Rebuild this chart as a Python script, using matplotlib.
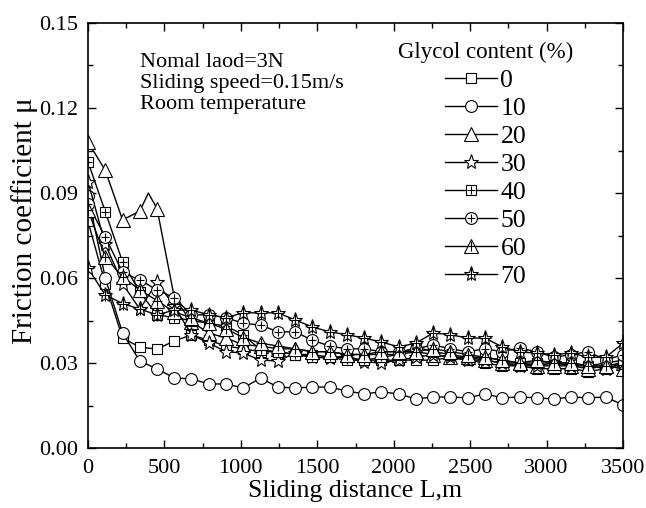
import matplotlib
matplotlib.use("Agg")
import matplotlib.pyplot as plt
from matplotlib.lines import Line2D
from matplotlib.legend_handler import HandlerTuple
from matplotlib.ticker import MultipleLocator, FormatStrFormatter

plt.rcParams['font.family'] = ['Liberation Serif', 'DejaVu Serif']

# ---------------- data ----------------
distance = [0, 113, 226, 339, 452, 565, 677, 790, 903, 1016, 1129, 1242, 1355, 1468,
            1581, 1694, 1806, 1919, 2032, 2145, 2258, 2371, 2484, 2597, 2710, 2823,
            2935, 3048, 3161, 3274, 3387, 3500]

mu_0 = [0.080, 0.058, 0.0388, 0.0356, 0.0349, 0.0378, 0.0399, 0.038, 0.036, 0.035,
        0.034, 0.034, 0.033, 0.033, 0.032, 0.032, 0.031, 0.031, 0.031, 0.031, 0.031,
        0.032, 0.031, 0.030, 0.029, 0.029, 0.028, 0.028, 0.028, 0.027, 0.028, 0.030]
mu_10 = [0.089, 0.060, 0.0406, 0.0307, 0.0279, 0.0247, 0.0244, 0.0226, 0.0226, 0.0212,
         0.0247, 0.0215, 0.0212, 0.0215, 0.0215, 0.0201, 0.0191, 0.0198, 0.0191, 0.0173,
         0.0180, 0.0180, 0.0177, 0.0191, 0.0177, 0.0180, 0.0177, 0.0173, 0.0180, 0.0177,
         0.0180, 0.0152]
distance_20 = [0, 113, 226, 339, 395, 452, 565, 677, 790, 903, 1016, 1129, 1242, 1355,
               1468, 1581, 1694, 1806, 1919, 2032, 2145, 2258, 2371, 2484, 2597, 2710,
               2823, 2935, 3048, 3161, 3274, 3387, 3500]
mu_20 = [0.108, 0.098, 0.0805, 0.0836, 0.090, 0.0844, 0.053, 0.0445, 0.0406, 0.0388,
         0.0364, 0.036, 0.035, 0.035, 0.034, 0.034, 0.033, 0.033, 0.033, 0.033, 0.034,
         0.033, 0.032, 0.032, 0.031, 0.030, 0.030, 0.029, 0.029, 0.029, 0.028, 0.029,
         0.030]
mu_30 = [0.094, 0.072, 0.058, 0.049, 0.0586, 0.050, 0.040, 0.037, 0.034, 0.0335, 0.031,
         0.0307, 0.0335, 0.032, 0.0318, 0.0325, 0.0304, 0.030, 0.031, 0.032, 0.033,
         0.032, 0.031, 0.031, 0.030, 0.029, 0.029, 0.030, 0.029, 0.029, 0.028, 0.029]
mu_40 = [0.101, 0.0834, 0.0657, 0.055, 0.047, 0.046, 0.045, 0.044, 0.043, 0.040,
         0.0346, 0.034, 0.033, 0.032, 0.032, 0.031, 0.031, 0.032, 0.033, 0.0357, 0.034,
         0.033, 0.032, 0.032, 0.031, 0.030, 0.030, 0.030, 0.030, 0.029, 0.030, 0.031]
mu_50 = [0.086, 0.0745, 0.062, 0.0593, 0.0558, 0.053, 0.047, 0.047, 0.046, 0.044,
         0.0434, 0.041, 0.041, 0.038, 0.036, 0.035, 0.035, 0.034, 0.034, 0.035, 0.0364,
         0.035, 0.034, 0.035, 0.034, 0.0353, 0.034, 0.032, 0.033, 0.034, 0.031, 0.033]
mu_60 = [0.084, 0.0674, 0.0604, 0.0558, 0.052, 0.048, 0.046, 0.044, 0.042, 0.039,
         0.037, 0.036, 0.035, 0.034, 0.034, 0.033, 0.033, 0.034, 0.034, 0.034, 0.035,
         0.034, 0.033, 0.032, 0.031, 0.030, 0.031, 0.030, 0.030, 0.029, 0.029, 0.028]
mu_70 = [0.0635, 0.054, 0.051, 0.049, 0.047, 0.0487, 0.0487, 0.047, 0.046, 0.0477,
         0.0477, 0.0477, 0.0452, 0.0427, 0.041, 0.040, 0.0388, 0.0374, 0.0357, 0.037,
         0.0406, 0.040, 0.0388, 0.0388, 0.0357, 0.0339, 0.0335, 0.033, 0.0335, 0.032,
         0.032, 0.037]

labels = ['0', '10', '20', '30', '40', '50', '60', '70']

# ---------------- figure ----------------
fig = plt.figure(figsize=(6.46, 5.08), dpi=100)
ax = fig.add_axes([88 / 646, 60 / 508, 535 / 646, 425 / 508])

series = [
    (distance, mu_0, 's', False, 7.5),
    (distance, mu_10, 'o', False, 8.5),
    (distance_20, mu_20, '^', False, 9.5),
    (distance, mu_30, '*', False, 11),
    (distance, mu_40, 's', True, 7.5),
    (distance, mu_50, 'o', True, 8.5),
    (distance, mu_60, '^', True, 9.5),
    (distance, mu_70, '*', True, 11),
]

handles = []
for (xs, ys, mk, plus, ms), lab in zip(series, labels):
    if xs is distance_20:
        idx = [i for i in range(len(xs)) if xs[i] != 395]
    else:
        idx = list(range(len(xs)))
    ax.plot(xs, ys, color='black', lw=1.0, marker=mk, ms=ms,
            mfc='white', mec='black', mew=0.8, markevery=idx)
    h = [Line2D([], [], color='black', lw=1.0, marker=mk, ms=ms,
                mfc='white', mec='black', mew=0.8)]
    if plus:
        pxs = [xs[i] for i in idx]
        pys = [ys[i] for i in idx]
        ax.plot(pxs, pys, ls='none', marker='+', ms=ms * 0.75, mec='black', mew=0.8)
        h.append(Line2D([], [], ls='none', marker='+', ms=ms * 0.75,
                        mec='black', mew=0.8))
    handles.append(tuple(h))

ax.set_xlim(0, 3500)
ax.set_ylim(0, 0.15)
ax.xaxis.set_major_locator(MultipleLocator(500))
ax.xaxis.set_minor_locator(MultipleLocator(250))
ax.yaxis.set_major_locator(MultipleLocator(0.03))
ax.yaxis.set_minor_locator(MultipleLocator(0.015))
ax.yaxis.set_major_formatter(FormatStrFormatter('%.2f'))
ax.tick_params(which='both', direction='in', top=True, right=True, width=1.0)
ax.tick_params(which='major', length=6, labelsize=16)
ax.tick_params(which='minor', length=3.5)
ax.tick_params(axis='y', which='major', pad=7)
ax.tick_params(axis='x', which='major', pad=8)
for sp in ax.spines.values():
    sp.set_linewidth(1.2)

ax.set_xlabel('Sliding distance L,m', fontsize=18.5, labelpad=1)
ax.set_ylabel('Friction coefficient μ', fontsize=21)
ax.yaxis.set_label_coords(-0.094, 0.535)

ax.text(0.098, 0.93, 'Nomal laod=3N\nSliding speed=0.15m/s\nRoom temperature',
        transform=ax.transAxes, fontsize=16, va='top', ha='left', linespacing=1.15)

leg = ax.legend(handles, labels,
                handler_map={tuple: HandlerTuple(ndivide=1, pad=0)},
                title='Glycol content (%)', loc='upper left',
                bbox_to_anchor=(0.546, 0.997), frameon=False, fontsize=18.5,
                title_fontsize=16.5, handlelength=2.0, handletextpad=0.15,
                labelspacing=0.2, borderpad=0.2)

fig.savefig('out.png', dpi=100)
